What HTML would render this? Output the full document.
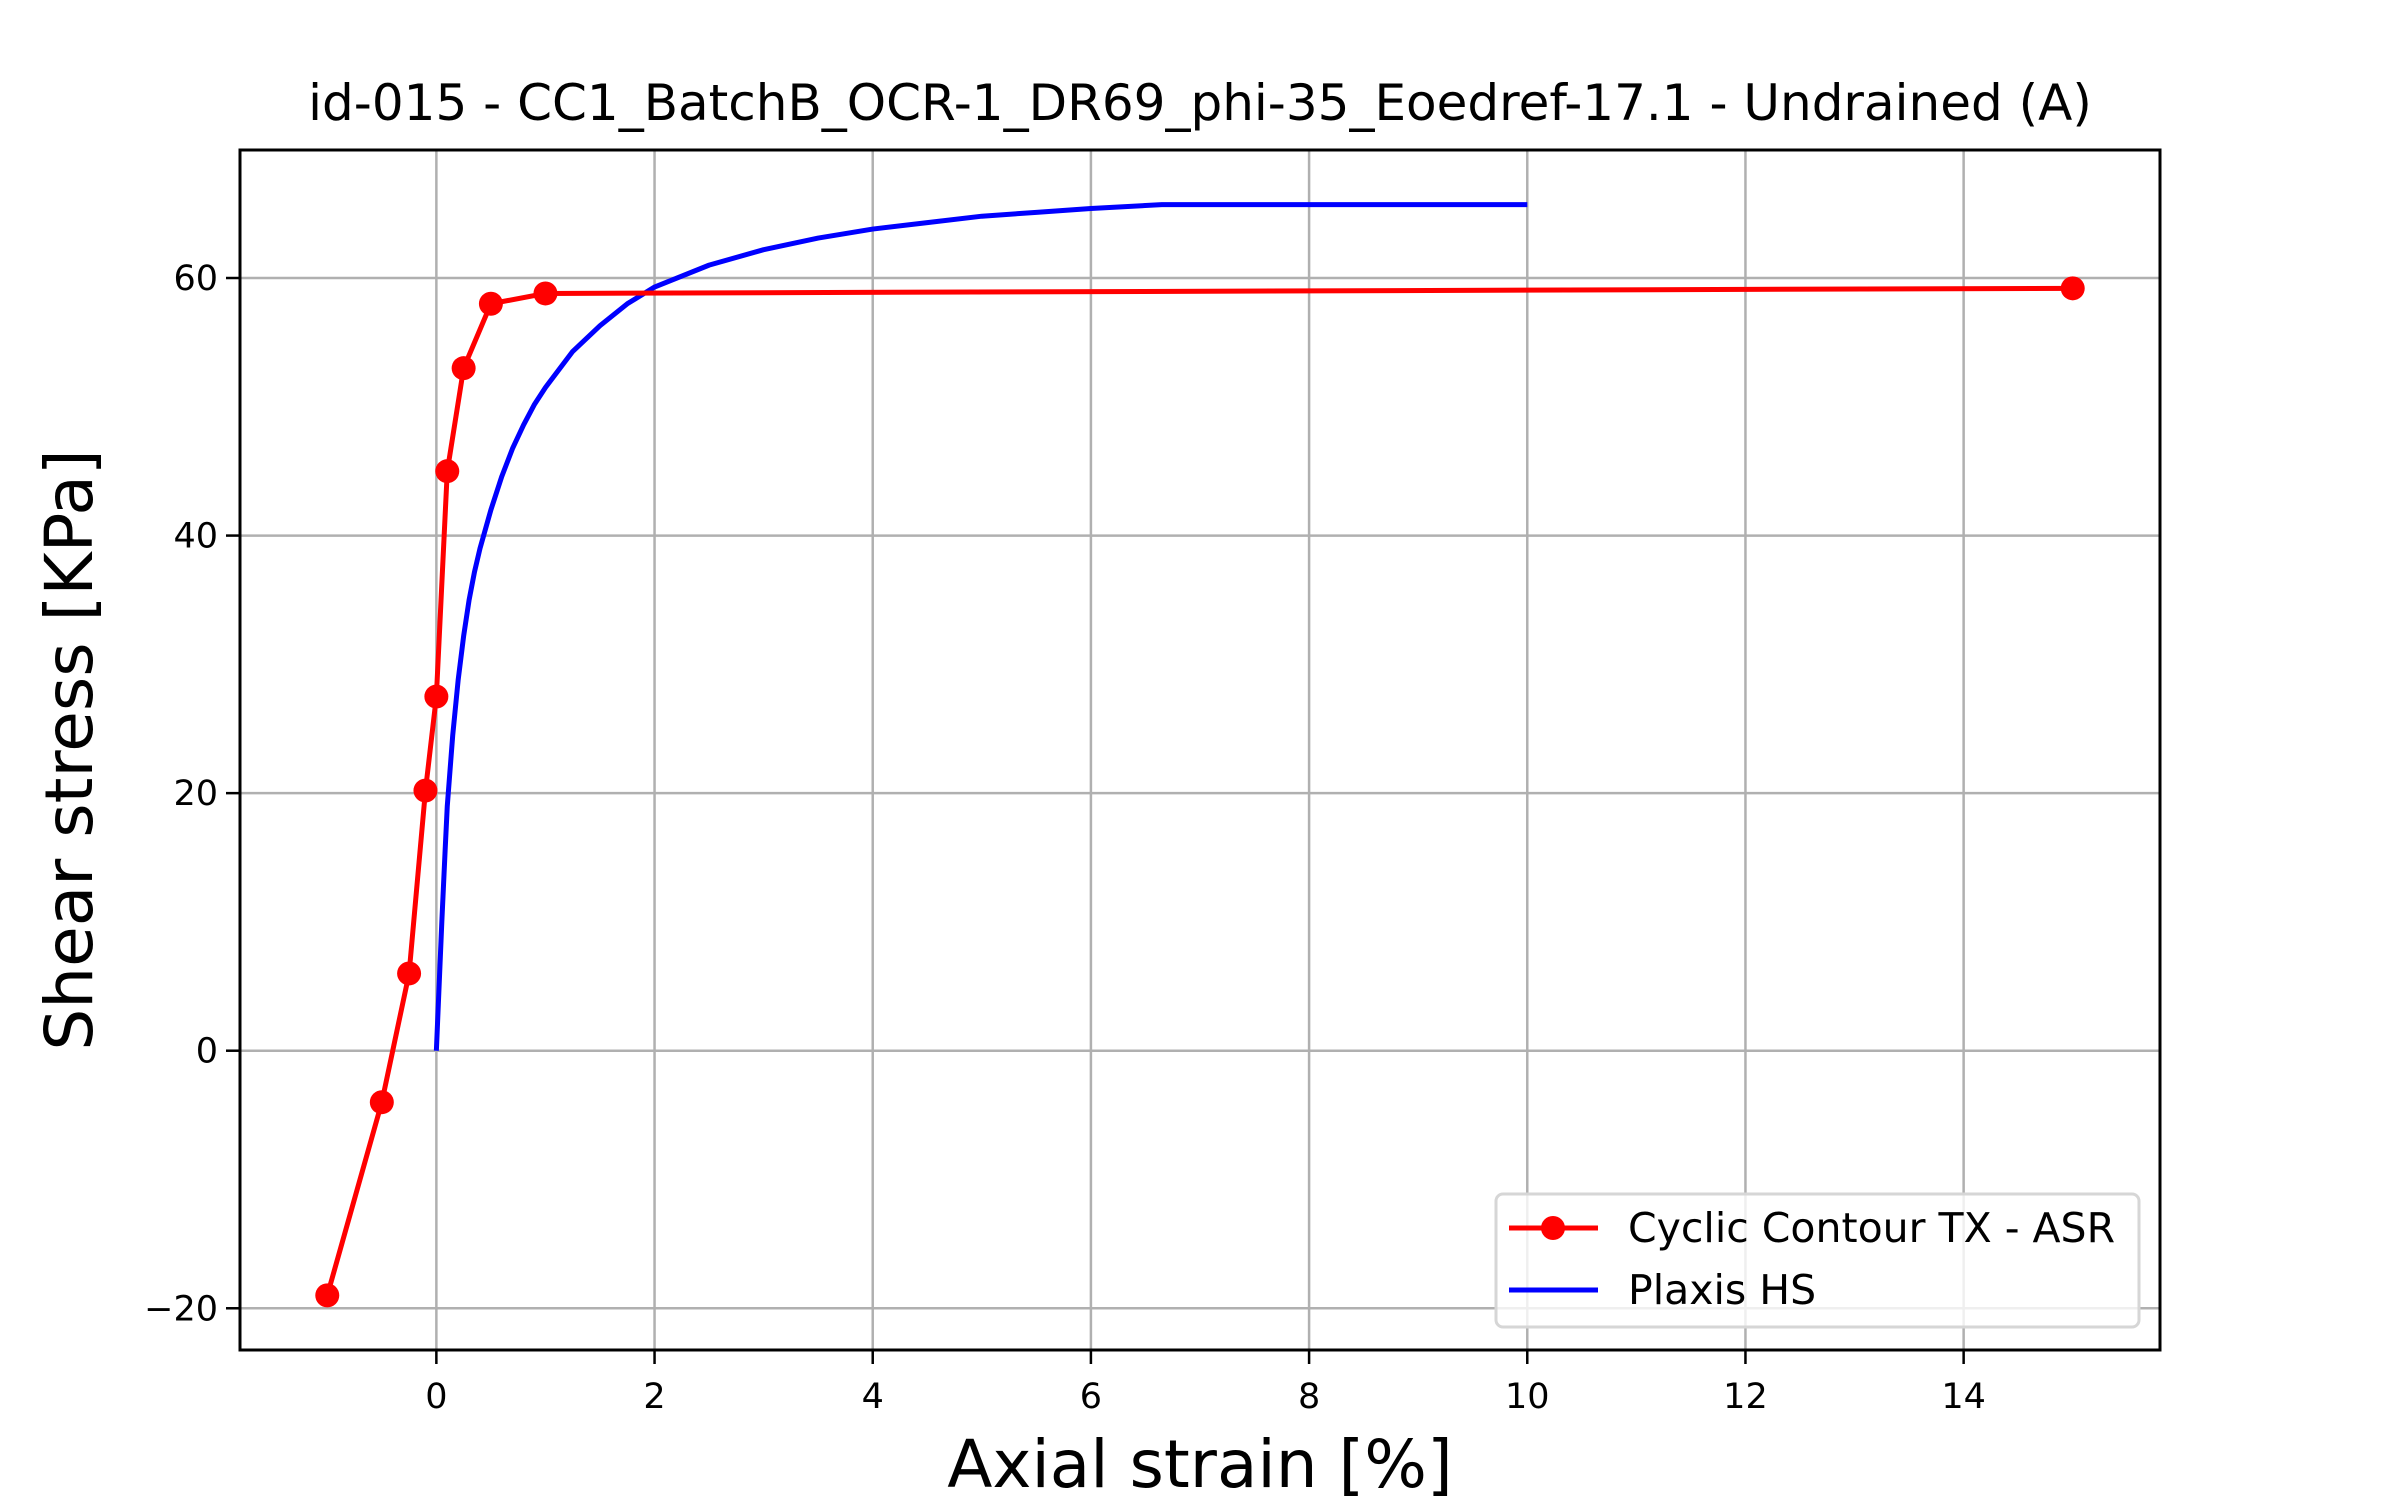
<!DOCTYPE html>
<html><head><meta charset="utf-8"><style>
html,body{margin:0;padding:0;background:#fff}
svg{display:block;font-family:"DejaVu Sans","Liberation Sans",sans-serif}
</style></head><body>
<svg id="chart" width="2400" height="1500" xmlns="http://www.w3.org/2000/svg">
<rect width="2400" height="1500" fill="#fff"/>
<g id="grid"></g>
<g id="series"></g>
<rect x="240" y="150" width="1920" height="1200" fill="none" stroke="#000" stroke-width="3"/>
<g id="ticks"></g>
<text x="1200" y="120" font-size="50" text-anchor="middle">id-015 - CC1_BatchB_OCR-1_DR69_phi-35_Eoedref-17.1 - Undrained (A)</text>
<text x="1200" y="1487" font-size="66" text-anchor="middle">Axial strain [%]</text>
<text transform="translate(92,750) rotate(-90)" font-size="66" text-anchor="middle">Shear stress [KPa]</text>
<g>
<rect x="1496" y="1194" width="643" height="133" rx="7" fill="#fff" fill-opacity="0.8" stroke="#d6d6d6" stroke-width="3"/>
<line x1="1509" y1="1228" x2="1598" y2="1228" stroke="#f00" stroke-width="5"/>
<circle cx="1553" cy="1228" r="12" fill="#f00"/>
<text x="1628" y="1242" font-size="41">Cyclic Contour TX - ASR</text>
<line x1="1509" y1="1290" x2="1598" y2="1290" stroke="#00f" stroke-width="5"/>
<text x="1628" y="1304" font-size="41">Plaxis HS</text>
</g>
</svg>
<script>
const xTicks=[0,2,4,6,8,10,12,14];
const yTicks=[-20,0,20,40,60];
const redX=[-1,-0.5,-0.25,-0.1,0,0.1,0.25,0.5,1,15];
const redY=[-19,-4,6,20.2,27.5,45,53,58,58.8,59.2];
const blueX=[0,0.02,0.05,0.08,0.1,0.15,0.2,0.25,0.3,0.35,0.4,0.5,0.6,0.7,0.8,0.9,1,1.25,1.5,1.75,2,2.5,3,3.5,4,4.5,5,5.5,6,6.65,10];
const blueY=[0,4,10,15.5,19,24.5,28.8,32.2,35,37.2,39,42,44.6,46.8,48.6,50.2,51.5,54.3,56.3,58,59.3,61,62.2,63.1,63.8,64.3,64.8,65.1,65.4,65.7,65.7];
const X0=-1.8,X1=15.8,Y0=-23.24,Y1=69.94,L=240,R=2160,T=150,B=1350;
const sx=v=>L+(v-X0)/(X1-X0)*(R-L);
const sy=v=>B-(v-Y0)/(Y1-Y0)*(B-T);
const NS='http://www.w3.org/2000/svg';
const mk=(t,a,p)=>{const e=document.createElementNS(NS,t);for(const k in a)e.setAttribute(k,a[k]);p.appendChild(e);return e;};
const grid=document.getElementById('grid'),ticks=document.getElementById('ticks'),ser=document.getElementById('series');
xTicks.forEach(v=>{
 const g=mk('line',{x1:sx(v),x2:sx(v),y1:T,y2:B,stroke:'#b0b0b0','stroke-width':2.5},grid);
 
 
 const t=mk('line',{x1:sx(v),x2:sx(v),y1:B,y2:B+14,stroke:'#000','stroke-width':2.5},ticks);
 
 
 const l=mk('text',{x:sx(v),y:B+58,'font-size':35,'text-anchor':'middle'},ticks);
 l.textContent=String(v);
 
 
});
yTicks.forEach(v=>{
 const g=mk('line',{x1:L,x2:R,y1:sy(v),y2:sy(v),stroke:'#b0b0b0','stroke-width':2.5},grid);
 
 
 const t=mk('line',{x1:L-14,x2:L,y1:sy(v),y2:sy(v),stroke:'#000','stroke-width':2.5},ticks);
 
 
 const l=mk('text',{x:L-22,y:sy(v)+12,'font-size':35,'text-anchor':'end'},ticks);
 l.textContent=v<0?'\u2212'+Math.abs(v):String(v);
 
 
});
const bl=mk('polyline',{points:blueX.map((x,i)=>sx(x)+','+sy(blueY[i])).join(' '),fill:'none',stroke:'#00f','stroke-width':5,'stroke-linejoin':'round'},ser);


const rl=mk('polyline',{points:redX.map((x,i)=>sx(x)+','+sy(redY[i])).join(' '),fill:'none',stroke:'#f00','stroke-width':5,'stroke-linejoin':'round'},ser);


redX.forEach((x,i)=>{
 const c=mk('circle',{cx:sx(x),cy:sy(redY[i]),r:12,fill:'#f00'},ser);
 
 
});
</script>
</body></html>
